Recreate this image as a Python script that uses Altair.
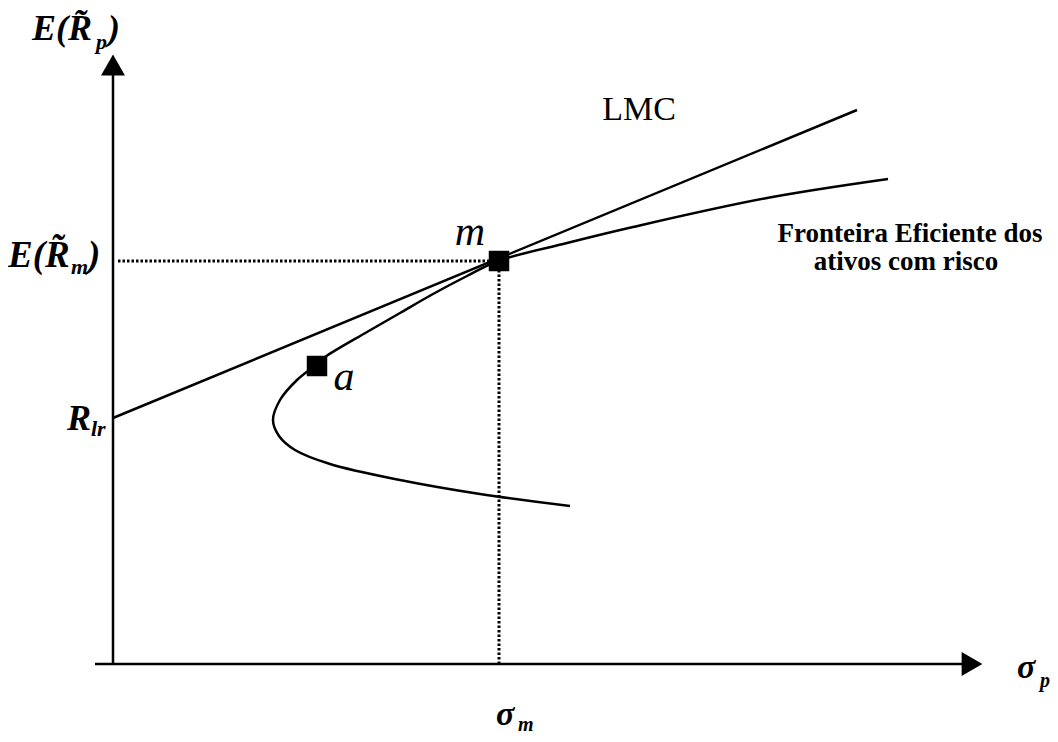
import altair as alt
import pandas as pd

# Coordinates: sigma (horizontal) and E (vertical), origin at the axes crossing
lmc_sigma = [0, 744]
lmc_E = [246, 554]

front_sigma = [457, 367, 287, 217, 182, 166, 160, 167, 184, 204, 212, 254, 287, 320, 354, 385, 454, 520, 654, 775]
front_E = [158, 170, 184, 200, 214, 228, 244, 264, 284, 300, 307, 332, 351, 370, 388, 403, 421, 437, 466, 485]

pt_sigma = [204, 386]
pt_E = [298, 403]

sigma_m = 386
E_m = 403

# axis extents
x_axis_start, x_axis_end = -18, 859
y_axis_end = 599

# math labels (bold italic): main glyphs
math_text = ["E(R\u0303", ")", "E(R\u0303", ")", "R", "\u03c3", "\u03c3"]
math_sigma = [-81, -5, -105, -25, -46, 904, 383]
math_E = [624, 624, 397, 397, 234, -14, -61]
math_size = [36, 36, 37, 37, 36, 34, 34]

sub_text = ["p", "m", "lr", "p", "m"]
sub_sigma = [-17, -42, -22, 927, 405]
sub_E = [615, 390, 228, -23, -67]
sub_size = [22, 22, 22, 20, 20]

pt_labels = ["a", "m"]
pt_label_sigma = [231, 357]
pt_label_E = [274, 419]

note_text = ["LMC", "Fronteira Eficiente dos", "ativos com risco"]
note_sigma = [526, 797, 793]
note_E = [544, 422, 394]
note_size = [34, 27, 27]
note_weight = ["normal", "bold", "bold"]

xs = alt.Scale(domain=[-105, 937], nice=False, zero=False)
ys = alt.Scale(domain=[-70, 656], nice=False, zero=False)

def X(f="s"):
    return alt.X(f"{f}:Q", scale=xs, axis=None)

def Y(f="e"):
    return alt.Y(f"{f}:Q", scale=ys, axis=None)

serif = "Liberation Serif"

# axes
axes_df = pd.DataFrame({
    "s": [x_axis_start, 0], "s2": [x_axis_end, 0],
    "e": [0, 0], "e2": [0, y_axis_end],
})
axes = alt.Chart(axes_df).mark_rule(color="black", strokeWidth=2.5).encode(
    x=X(), x2="s2:Q", y=Y(), y2="e2:Q")

arrow_r = alt.Chart(pd.DataFrame({"s": [x_axis_end], "e": [0]})).mark_point(
    shape="triangle-right", size=576, filled=True, color="black", opacity=1
).encode(x=X(), y=Y())
arrow_u = alt.Chart(pd.DataFrame({"s": [0], "e": [y_axis_end]})).mark_point(
    shape="triangle-up", size=576, filled=True, color="black", opacity=1
).encode(x=X(), y=Y())

# dotted guides
dots_df = pd.DataFrame({
    "s": [5, sigma_m], "s2": [sigma_m - 8, sigma_m],
    "e": [E_m, 0], "e2": [E_m, E_m - 10],
})
dots = alt.Chart(dots_df).mark_rule(color="black", strokeWidth=3, strokeDash=[2.5, 2]).encode(
    x=X(), x2="s2:Q", y=Y(), y2="e2:Q")

# LMC line
lmc = alt.Chart(pd.DataFrame({"s": lmc_sigma, "e": lmc_E})).mark_line(
    color="black", strokeWidth=2.5).encode(x=X(), y=Y())

# frontier
fr_df = pd.DataFrame({"s": front_sigma, "e": front_E, "o": list(range(len(front_sigma)))})
frontier = alt.Chart(fr_df).mark_line(
    color="black", strokeWidth=2.5, interpolate="catmull-rom").encode(
    x=X(), y=Y(), order="o:Q")

# markers
markers = alt.Chart(pd.DataFrame({"s": pt_sigma, "e": pt_E})).mark_square(
    size=420, color="black", opacity=1).encode(x=X(), y=Y())

# texts
math_df = pd.DataFrame({"s": math_sigma, "e": math_E, "t": math_text, "z": math_size})
math = alt.Chart(math_df).mark_text(
    font=serif, fontStyle="italic", fontWeight="bold", align="left",
    baseline="alphabetic", color="black").encode(
    x=X(), y=Y(), text="t:N", size=alt.Size("z:Q", scale=None))

sub_df = pd.DataFrame({"s": sub_sigma, "e": sub_E, "t": sub_text, "z": sub_size})
subs = alt.Chart(sub_df).mark_text(
    font=serif, fontStyle="italic", fontWeight="bold", align="left",
    baseline="alphabetic", color="black").encode(
    x=X(), y=Y(), text="t:N", size=alt.Size("z:Q", scale=None))

pl_df = pd.DataFrame({"s": pt_label_sigma, "e": pt_label_E, "t": pt_labels})
plabels = alt.Chart(pl_df).mark_text(
    font=serif, fontStyle="italic", fontSize=42, align="center",
    baseline="alphabetic", color="black").encode(x=X(), y=Y(), text="t:N")

note_df = pd.DataFrame({"s": note_sigma, "e": note_E, "t": note_text,
                        "z": note_size, "w": note_weight})
notes_n = alt.Chart(note_df[note_df.w == "normal"]).mark_text(
    font=serif, align="center", baseline="alphabetic", color="black").encode(
    x=X(), y=Y(), text="t:N", size=alt.Size("z:Q", scale=None))
notes_b = alt.Chart(note_df[note_df.w == "bold"]).mark_text(
    font=serif, fontWeight="bold", align="center", baseline="alphabetic", color="black").encode(
    x=X(), y=Y(), text="t:N", size=alt.Size("z:Q", scale=None))

chart = alt.layer(
    dots, axes, arrow_r, arrow_u, lmc, frontier, markers,
    math, subs, plabels, notes_n, notes_b
).properties(
    width=1042, height=726, padding=0,
    autosize=alt.AutoSizeParams(type="none"),
    background="white",
).configure_view(stroke=None)

chart.save("out.html", embed_options={"renderer": "svg", "actions": False})
